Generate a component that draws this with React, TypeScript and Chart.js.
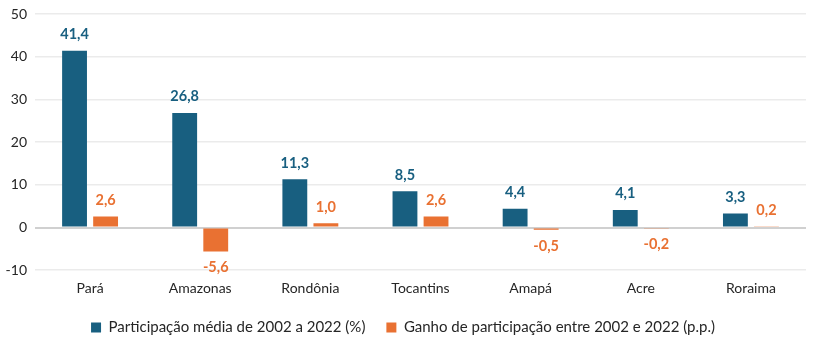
import React, { useEffect, useRef } from "react";
import { Chart, registerables } from "chart.js";

Chart.register(...registerables);

const categories = ["Pará", "Amazonas", "Rondônia", "Tocantins", "Amapá", "Acre", "Roraima"];
const participacao = [41.4, 26.8, 11.3, 8.5, 4.4, 4.1, 3.3];
const ganho = [2.6, -5.6, 1.0, 2.6, -0.5, -0.2, 0.2];
const seriesNames = [
  "Participação média de 2002 a 2022 (%)",
  "Ganho de participação entre 2002 e 2022 (p.p.)",
];
const BLUE = "#185F80";
const ORANGE = "#E97132";
const FONT = "Lato, 'Open Sans', sans-serif";

const fmt = (v: number) => v.toFixed(1).replace(".", ",");

const labelPlugin = {
  id: "valueLabels",
  afterDatasetsDraw(chart: any) {
    const ctx = chart.ctx;
    ctx.save();
    ctx.font = `bold 14.5px ${FONT}`;
    ctx.textAlign = "center";
    chart.data.datasets.forEach((ds: any, di: number) => {
      const meta = chart.getDatasetMeta(di);
      ctx.fillStyle = ds.backgroundColor;
      meta.data.forEach((el: any, i: number) => {
        const v = ds.data[i] as number;
        const top = Math.min(el.y, el.base);
        const bottom = Math.max(el.y, el.base);
        if (v >= 0) {
          ctx.textBaseline = "bottom";
          ctx.fillText(fmt(v), el.x, top - 9);
        } else {
          ctx.textBaseline = "top";
          ctx.fillText(fmt(v), el.x, bottom + 9);
        }
      });
    });
    ctx.restore();
  },
};

export default function App() {
  const ref = useRef<HTMLCanvasElement | null>(null);
  useEffect(() => {
    if (!ref.current) return;
    const chart = new Chart(ref.current, {
      type: "bar",
      data: {
        labels: categories,
        datasets: [
          { label: seriesNames[0], data: participacao, backgroundColor: BLUE },
          { label: seriesNames[1], data: ganho, backgroundColor: ORANGE },
        ],
      },
      options: {
        animation: false,
        responsive: true,
        maintainAspectRatio: false,
        datasets: { bar: { categoryPercentage: 0.564, barPercentage: 0.8 } },
        layout: { padding: { top: 14, right: 22, left: 0, bottom: 10 } },
        scales: {
          x: {
            grid: { display: false },
            border: { display: false },
            ticks: { color: "#262626", font: { family: FONT, size: 14 }, padding: 2 },
          },
          y: {
            min: -10,
            max: 50,
            afterFit: (s: any) => {
              s.width = 35;
              s.paddingTop = 0;
              s.paddingBottom = 0;
            },
            ticks: {
              stepSize: 10,
              color: "#262626",
              font: { family: FONT, size: 14 },
              padding: 8,
            },
            border: { display: false },
            grid: {
              color: (c: any) => (c.tick && c.tick.value === 0 ? "#d0d0d0" : "#ebebeb"),
              lineWidth: (c: any) => (c.tick && c.tick.value === 0 ? 2 : 1.5),
              drawTicks: false,
            },
          },
        },
        plugins: {
          legend: {
            position: "bottom",
            labels: {
              boxWidth: 10,
              boxHeight: 10,
              color: "#262626",
              font: { family: FONT, size: 15 },
              padding: 21,
            },
          },
          tooltip: { enabled: false },
        },
      },
      plugins: [labelPlugin],
    });
    return () => chart.destroy();
  }, []);
  return (
    <div style={{ position: "fixed", left: 0, top: 0, width: 828, height: 355, background: "#fff" }}>
      <canvas ref={ref} />
    </div>
  );
}
